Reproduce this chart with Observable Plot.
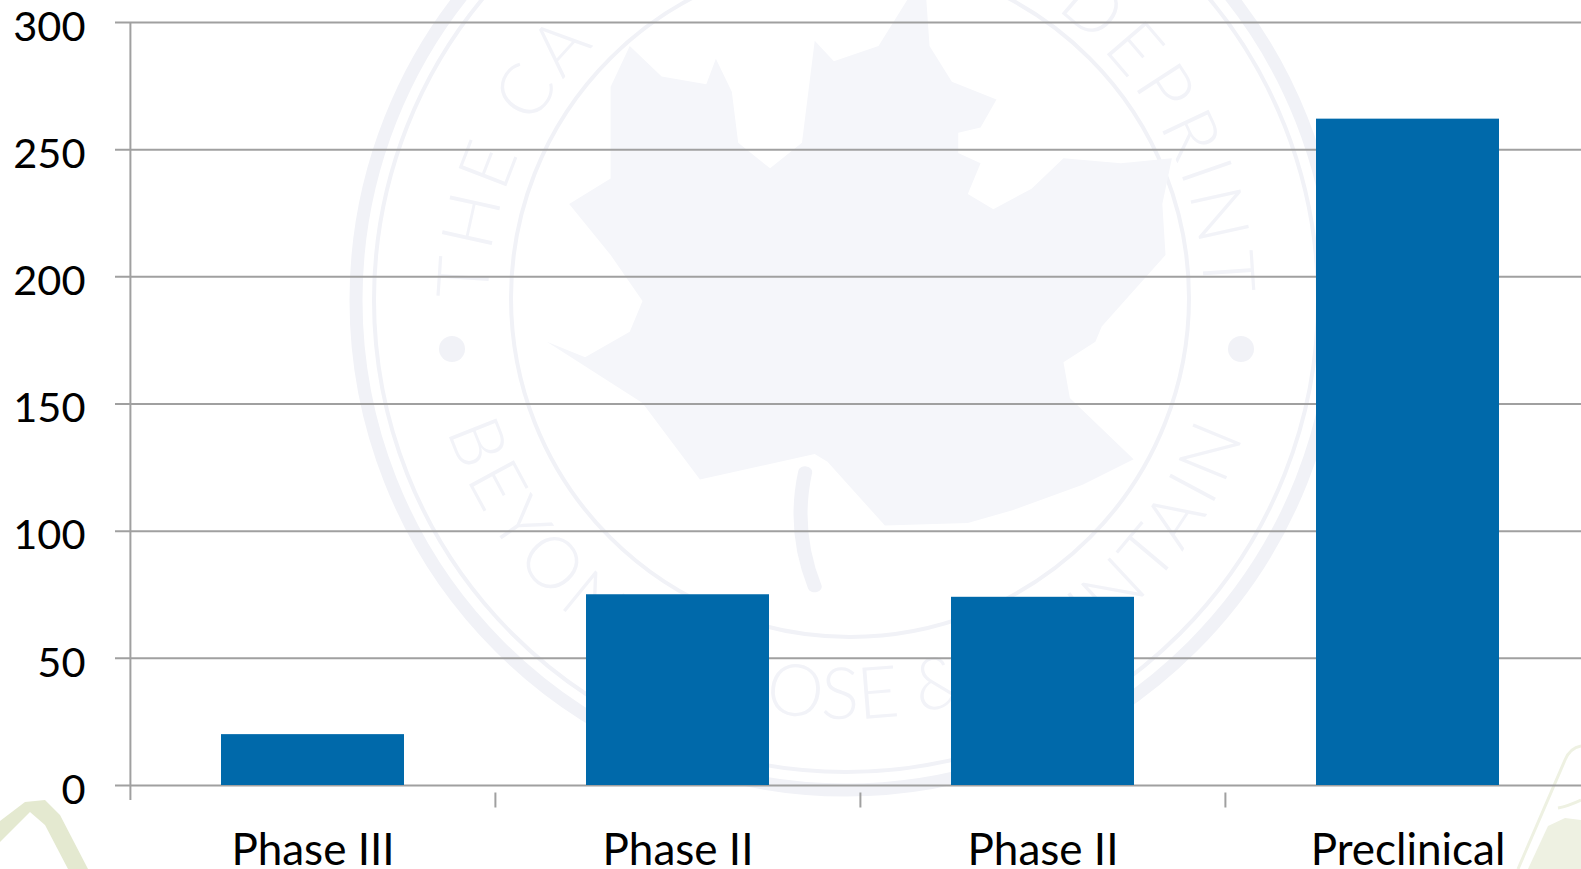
<!DOCTYPE html>
<html>
<head>
<meta charset="utf-8">
<style>
html,body{margin:0;padding:0;background:#fff;overflow:hidden;width:1581px;height:869px}
#wrap{position:relative;width:1581px;height:869px;overflow:hidden}
#wm{position:absolute;left:0;top:0}
#chart{position:absolute;left:0;top:0}
#chart svg{background:transparent;display:block}
</style>
<script src="https://cdn.jsdelivr.net/npm/d3@7"></script>
<script src="https://cdn.jsdelivr.net/npm/@observablehq/plot@0.6"></script>
</head>
<body>
<div id="wrap">
<svg id="wm" width="1581" height="869">
  <defs>
    <path id="arcTop" d="M488 300 A358 358 0 0 1 1204 300"/>
    <path id="arcBottom" d="M447 430 A420 420 0 0 0 1245 430"/>
  </defs>
  <g fill="none" stroke="#f1f2f7">
    <circle cx="846" cy="300" r="490" stroke-width="13"/>
    <circle cx="846" cy="300" r="472" stroke-width="4"/>
    <circle cx="850" cy="298" r="339" stroke-width="4"/>
  </g>
  <g transform="translate(330,0) scale(.6378,.5102)">
    <path fill="#f5f6fa" d="M905 0 L935 0 L940 90 L975 160 L1045 195 L1020 250 L985 260 L985 300 L1020 320 L1000 380 L1040 410 L1100 370 L1150 310 L1240 320 L1320 310 L1305 400 L1310 500 L1210 640 L1200 670 L1150 710 L1160 780 L1260 900 L1180 950 L1070 1000 L1000 1025 L870 1030 L780 905 L760 890 L580 940 L490 790 L340 670 L400 700 L470 650 L490 590 L440 500 L375 400 L440 350 L440 170 L470 90 L520 150 L590 165 L605 115 L630 180 L640 280 L690 330 L740 280 L760 80 L790 120 L860 90 Z"/>
    <path fill="none" stroke="#f1f2f7" stroke-width="22" stroke-linecap="round" d="M745 925 Q725 1040 760 1150"/>
  </g>
  <g fill="#f1f2f7"><circle cx="452" cy="349" r="13"/><circle cx="1241" cy="349" r="13"/></g>
  <g fill="#f2f3f8" font-family="Lato, sans-serif" font-weight="300" font-size="72">
    <text><textPath href="#arcTop" startOffset="0" text-anchor="start" letter-spacing="6">THE CA</textPath></text>
    <text><textPath href="#arcTop" startOffset="100%" text-anchor="end" letter-spacing="6">DEPRINT</textPath></text>
    <text><textPath href="#arcBottom" startOffset="0" text-anchor="start" letter-spacing="6">BEYON</textPath></text>
    <text><textPath href="#arcBottom" startOffset="52%" text-anchor="middle">OSE &amp;</textPath></text>
    <text><textPath href="#arcBottom" startOffset="100%" text-anchor="end" letter-spacing="6">UNTAIN</textPath></text>
  </g>
  <path fill="#e4e9d0" d="M0 821 L25 802 L45 800 L60 815 L88 869 L68 869 L45 825 L30 812 L0 842 Z"/>
  <path fill="none" stroke="#eef1e2" stroke-width="3" d="M1518 869 L1565 760 Q1570 748 1581 746"/>
  <path fill="none" stroke="#eef1e2" stroke-width="3" d="M1558 808 Q1568 806 1581 800"/>
  <path fill="#eef1e2" d="M1528 869 L1548 826 L1565 818 L1581 820 L1581 869 Z"/>
</svg>
<div id="chart"></div>
</div>
<script>
const categories = ["Phase III", "Phase II", "Phase II", "Preclinical"];
const values = [20, 75, 74, 262];
const yTicks = [0, 50, 100, 150, 200, 250, 300];
const positions = categories.map((_, i) => i);
const rows = positions.map(i => ({i, value: values[i]}));
const axisColor = "#a0a0a0";
const barColor = "#0069aa";
const fontFamily = "Lato, 'Open Sans', sans-serif";

const plot = Plot.plot({
  width: 1581,
  height: 869,
  marginTop: 22,
  marginBottom: 84,
  marginLeft: 130,
  marginRight: 0,
  style: {background: "transparent", fontFamily},
  x: {type: "band", domain: positions, range: [129.5, 1590.5], paddingInner: 0.5, paddingOuter: 0.25, label: null},
  y: {domain: [0, 300], label: null},
  marks: [
    Plot.ruleY(yTicks, {stroke: axisColor, strokeWidth: 2, strokeOpacity: 1, insetLeft: -15}),
    Plot.ruleX([0], {x: d => d, dx: -182.6, y1: 300, y2: 0, stroke: axisColor, strokeWidth: 2, insetBottom: -15}),
    Plot.ruleX(positions.slice(1), {x: d => d, y: 0, dx: -182.6, dy: 7.5, stroke: axisColor, strokeWidth: 2, insetBottom: -15}),
    Plot.barY(rows, {x: "i", y: "value", fill: barColor, style: {filter: "drop-shadow(0 1px 1.5px rgba(0,0,0,.3))"}}),
    Plot.axisY(yTicks, {anchor: "left", tickSize: 0, tickPadding: 45, dy: 5, fontSize: 41.5, fill: "#000", label: null}),
    Plot.axisX(positions, {anchor: "bottom", tickSize: 0, tickPadding: 48, tickFormat: i => categories[i], fontSize: 44, fill: "#000", label: null})
  ]
});
document.getElementById("chart").appendChild(plot);
</script>
</body>
</html>
